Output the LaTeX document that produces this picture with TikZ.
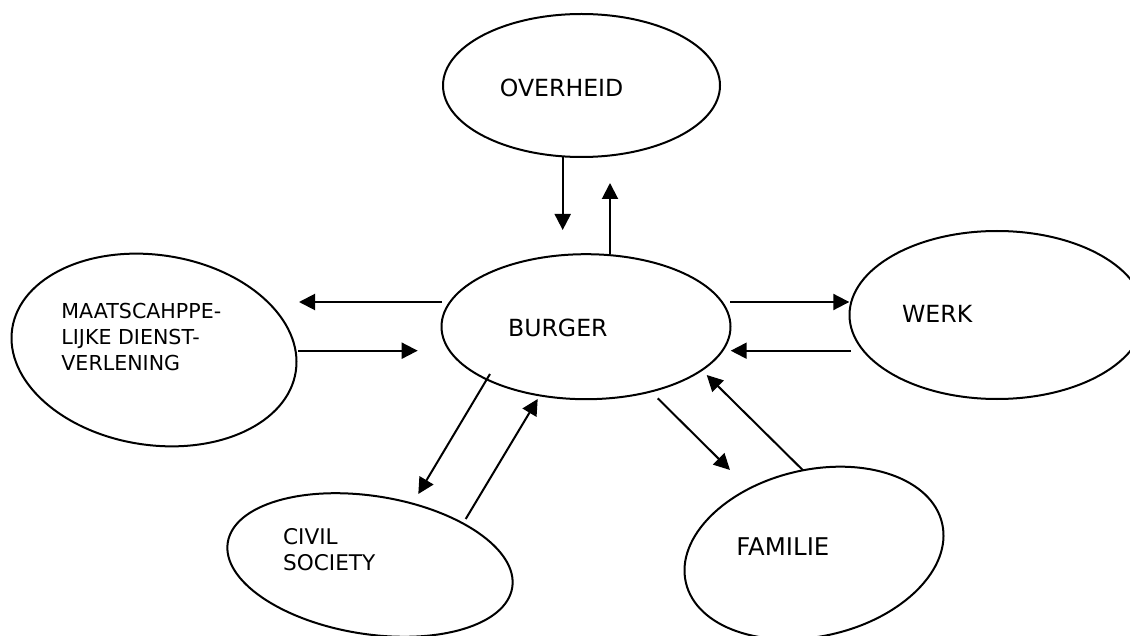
\documentclass[tikz,border=0pt]{standalone}
\usepackage{fontspec}
\setmainfont{DejaVu Sans}
\usetikzlibrary{shapes.geometric,arrows.meta}
\begin{document}
\begin{tikzpicture}[x=0.5pt,y=-0.5pt,
  bol/.style={draw,ellipse,line width=1pt,inner sep=0pt},
  tekst/.style={anchor=base west,inner sep=0pt,align=left,font=\fontsize{11.8}{14}\selectfont},
  pijl/.style={line width=1pt,-{Triangle[length=8pt,width=8pt]}}]
\useasboundingbox (0,0) rectangle (1130,636);
\fill[white] (0,0) rectangle (1130,636);
\clip (0,0) rectangle (1130,636);

% ellipsen
\node[bol,minimum width=138.5pt,minimum height=71.5pt] (overheid) at (581.5,85.5) {};
\node[bol,minimum width=144.5pt,minimum height=72.5pt] (burger) at (586,326.7) {};
\node[bol,minimum width=147.5pt,minimum height=84pt] (werk) at (997,315) {};
\node[bol,minimum width=143.4pt,minimum height=95pt,rotate=-8.6] (maats) at (154,350) {};
\node[bol,minimum width=144pt,minimum height=69pt,rotate=-9] (civil) at (370,565) {};
\node[bol,minimum width=131.5pt,minimum height=83.2pt,rotate=13] (familie) at (814,553) {};

% teksten (bij meer regels ligt de basislijn op de laatste regel)
\node[tekst] (t-overheid) at (499.5,97) {OVERHEID};
\node[tekst] (t-burger) at (507.7,336.7) {BURGER};
\node[tekst] (t-werk) at (901.7,322.7) {WERK};
\node[tekst,font=\fontsize{10.3}{13}\selectfont] (t-maats) at (61,370.7) {MAATSCAHPPE-\\LIJKE DIENST-\\VERLENING};
\node[tekst,font=\fontsize{10.8}{13}\selectfont] (t-civil) at (282.7,570.7) {CIVIL\\SOCIETY};
\node[tekst,font=\fontsize{12.2}{14}\selectfont] (t-familie) at (736,555.5) {FAMILIE};

% eindpunten van de pijlen
\coordinate (ob-a) at (562.7,157);   \coordinate (ob-b) at (562.7,230);
\coordinate (bo-a) at (610,254);     \coordinate (bo-b) at (610,183);
\coordinate (bm-a) at (442,302);     \coordinate (bm-b) at (299,302);
\coordinate (mb-a) at (298,350.7);   \coordinate (mb-b) at (417.7,350.7);
\coordinate (bw-a) at (730,302);     \coordinate (bw-b) at (849.3,302);
\coordinate (wb-a) at (850.7,350.7); \coordinate (wb-b) at (730.7,350.7);
\coordinate (bc-a) at (490,374);     \coordinate (bc-b) at (418.3,494);
\coordinate (cb-a) at (465.7,519);   \coordinate (cb-b) at (537.7,399);
\coordinate (bf-a) at (657.7,398.3); \coordinate (bf-b) at (730,470);
\coordinate (fb-a) at (802.7,470);   \coordinate (fb-b) at (706.7,375);

\foreach \p in {ob,bo,bm,mb,bw,wb,bc,cb,bf,fb}
{
	\draw[pijl] (\p-a) -- (\p-b);
}

\end{tikzpicture}
\end{document}
